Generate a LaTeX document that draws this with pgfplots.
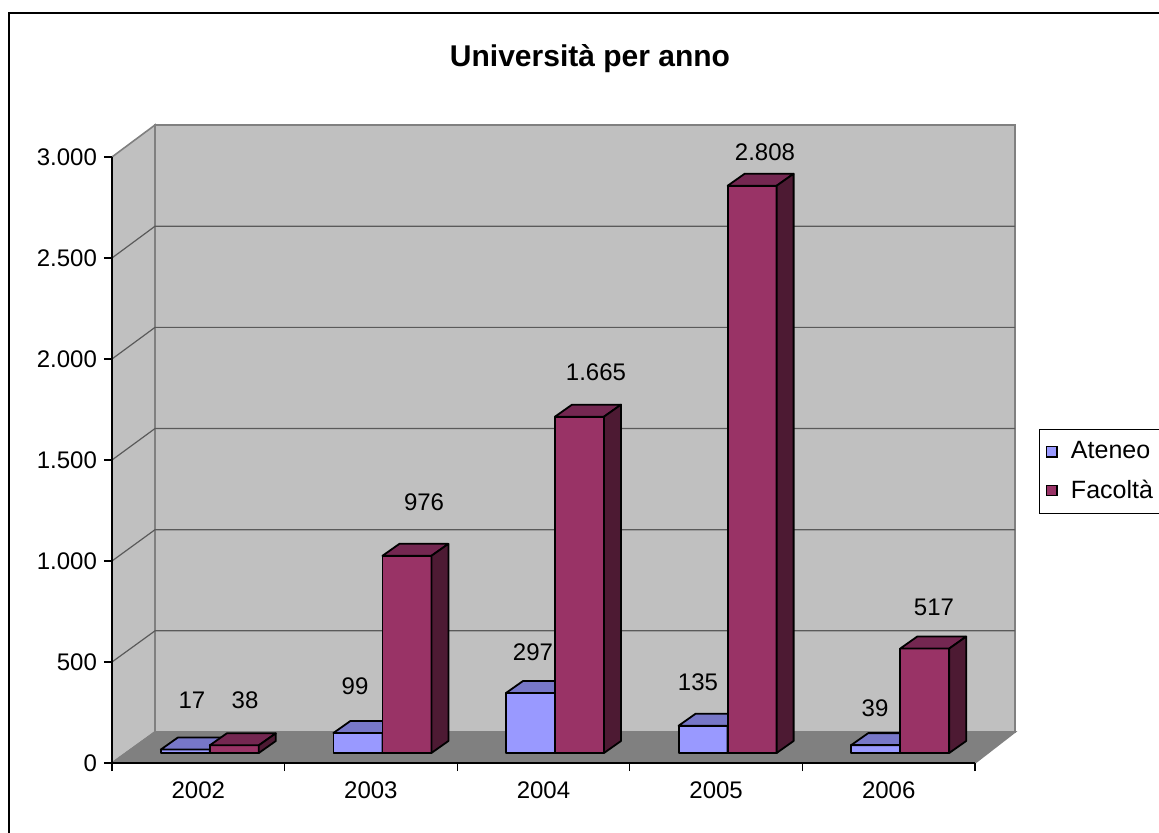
\documentclass[border=0pt]{standalone}
\usepackage{fontspec}
\setmainfont{Liberation Sans}
\usepackage{pgfplots}
\usepackage{pgfplotstable}
\pgfplotsset{compat=1.18}
\definecolor{wall}{HTML}{C0C0C0}
\definecolor{floorc}{HTML}{808080}
\definecolor{edgec}{HTML}{808080}
\definecolor{gridc}{HTML}{5A5A5A}
\definecolor{aFront}{HTML}{9999FF}
\definecolor{aTop}{HTML}{7777C8}
\definecolor{aSide}{HTML}{4D4D80}
\definecolor{fFront}{HTML}{993366}
\definecolor{fTop}{HTML}{742751}
\definecolor{fSide}{HTML}{4D1A33}

\pgfplotstableread{
x ateneo facolta
0 17 38
1 99 976
2 297 1665
3 135 2808
4 39 517
}\datatab

\pgfplotstableread{
x y lab
-0.037 312 17
0.271 312 38
0.908 381 99
1.308 1292 976
1.939 550 297
2.304 1936 1.665
2.895 401 135
3.283 3025 2.808
3.921 272 39
4.262 772 517
}\labtab

\pgfplotsset{
  bar3d/.style n args={4}{
    scatter, only marks, mark=text, text mark={}, forget plot,
    visualization depends on={rawy \as \rawy},
    scatter/@pre marker code/.code={%
      \pgfmathsetmacro\hh{\rawy*0.101}%
      \pgfmathsetmacro\xl{#1-12.25}%
      \pgfmathsetmacro\xr{#1+12.25}%
      \pgfmathsetmacro\xlb{#1-3.75}%
      \pgfmathsetmacro\xrb{#1+20.75}%
      \pgfmathsetmacro\yb{5-\hh}%
      \pgfmathsetmacro\ybb{11-\hh}%
      \filldraw[fill=#2, draw=black, line width=0.9pt, line join=round] (\xl pt,\yb pt) rectangle (\xr pt,5pt);
      \filldraw[fill=#3, draw=black, line width=0.9pt, line join=round] (\xl pt,5pt) -- (\xlb pt,11pt) -- (\xrb pt,11pt) -- (\xr pt,5pt) -- cycle;
      \filldraw[fill=#4, draw=black, line width=0.9pt, line join=round] (\xr pt,5pt) -- (\xrb pt,11pt) -- (\xrb pt,\ybb pt) -- (\xr pt,\yb pt) -- cycle;
    },
    scatter/@post marker code/.code={},
  }
}

\begin{document}
\begin{tikzpicture}
% background decoration in pixel-like coordinates
\begin{scope}[x=0.5pt,y=-0.5pt,shift={(-56pt,381.5pt)}]
  \draw[line width=0.8pt] (9,13) rectangle (1185,850);
  \filldraw[fill=wall, draw=edgec, line width=0.8pt] (112,157) -- (155,125) -- (155,732) -- (112,763) -- cycle;
  \filldraw[fill=wall, draw=edgec, line width=0.8pt] (155,125) rectangle (1015,732);
  \foreach \v in {500,1000,...,2500}
    \draw[gridc, line width=0.6pt] (112,{763-\v*0.202}) -- (155,{732-\v*0.2023}) -- (1015,{732-\v*0.2023});
  \filldraw[fill=floorc, draw=edgec, line width=0.8pt] (112,763) -- (155,732) -- (1015,732) -- (975,763) -- cycle;
  \node[font=\bfseries\fontsize{15}{18}\selectfont] at (590,59) {Università per anno};
\end{scope}

\begin{axis}[
  at={(0pt,0pt)}, anchor=south west,
  scale only axis, width=431.5pt, height=303pt,
  xmin=-0.5, xmax=4.5, ymin=0, ymax=3000,
  clip=false,
  axis x line*=bottom, axis y line*=left,
  axis line style={black, line width=0.8pt, -},
  xtick={-0.5,0.5,1.5,2.5,3.5,4.5},
  xticklabels={2002,2003,2004,2005,2006,{}},
  xticklabel style={xshift=43.15pt, yshift=-2pt},
  ytick={0,500,...,3000},
  tick align=outside, major tick length=4pt,
  tick style={black, line width=0.6pt},
  tick label style={font=\fontsize{12}{14}\selectfont},
  scaled y ticks=false,
  /pgf/number format/1000 sep={.},
  /pgf/number format/assume math mode=true,
  legend style={at={(1.0742,0.5512)}, anchor=north west, draw=black, line width=0.6pt,
    inner xsep=3pt, inner ysep=4pt, row sep=5pt, font=\fontsize{12.5}{14}\selectfont},
  legend cell align=left,
]
\addplot[bar3d={-6.5}{aFront}{aTop}{aSide}] table[x=x, y=ateneo] {\datatab};
\addplot[bar3d={18}{fFront}{fTop}{fSide}] table[x=x, y=facolta] {\datatab};

\addplot[draw=none, mark=none, forget plot, nodes near coords, point meta=explicit symbolic,
  every node near coord/.append style={anchor=center, font=\fontsize{12}{14}\selectfont, inner sep=0pt}]
  table[x=x, y=y, meta=lab] {\labtab};

\addlegendimage{legend image code/.code={\filldraw[fill=aFront,draw=black,line width=0.75pt] (0pt,-2.6pt) rectangle (5.2pt,2.6pt); \path (10pt,0pt);}}
\addlegendentry{Ateneo}
\addlegendimage{legend image code/.code={\filldraw[fill=fFront,draw=black,line width=0.75pt] (0pt,-2.6pt) rectangle (5.2pt,2.6pt); \path (10pt,0pt);}}
\addlegendentry{Facoltà}
\end{axis}
\pgfresetboundingbox
\path[use as bounding box] (-56pt,-35pt) rectangle (523.5pt,381.5pt);
\end{tikzpicture}
\end{document}
